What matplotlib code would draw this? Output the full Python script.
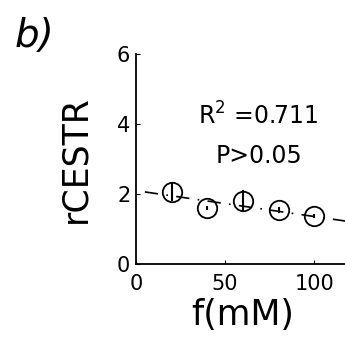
import matplotlib
matplotlib.use("Agg")
import matplotlib.pyplot as plt

conc = [20, 40, 60, 80, 100]
rcestr = [2.05, 1.6, 1.8, 1.54, 1.37]
err = [0.26, 0.05, 0.31, 0.08, 0.05]
fit_x = [5, 120]
fit_y = [2.06, 1.21]

fig = plt.figure(figsize=(3.45, 3.39), dpi=100)
ax = fig.add_axes([0.394, 0.221, 0.62, 0.62])

ax.plot(fit_x, fit_y, color="black", lw=1.2, linestyle=(0, (8, 5, 1, 5)))
ax.errorbar(conc, rcestr, yerr=err, fmt="o", mfc="none", mec="black", ms=14,
            mew=1.3, ecolor="black", elinewidth=1.5, capsize=0)

ax.set_xlim(0, 120)
ax.set_ylim(0, 6)
ax.set_xticks([0, 50, 100])
ax.set_yticks([0, 2, 4, 6])
ax.spines["top"].set_visible(False)
ax.spines["right"].set_visible(False)
ax.spines["left"].set_linewidth(1.3)
ax.spines["bottom"].set_linewidth(1.3)
ax.tick_params(direction="in", length=3, labelsize=15)
ax.tick_params(axis="x", pad=7)
ax.tick_params(axis="y", pad=4)
ax.set_xlabel("f(mM)", fontsize=25, labelpad=3)
ax.set_ylabel("rCESTR", fontsize=25, labelpad=18)

ax.text(0.572, 0.662, "R$^2$ =0.711", transform=ax.transAxes, ha="center",
        va="baseline", fontsize=17)
ax.text(0.577, 0.481, "P>0.05", transform=ax.transAxes, ha="center",
        va="baseline", fontsize=17)
fig.text(0.043, 0.894, "b)", fontsize=28, style="italic", va="center")

fig.savefig("out.png", dpi=100)
